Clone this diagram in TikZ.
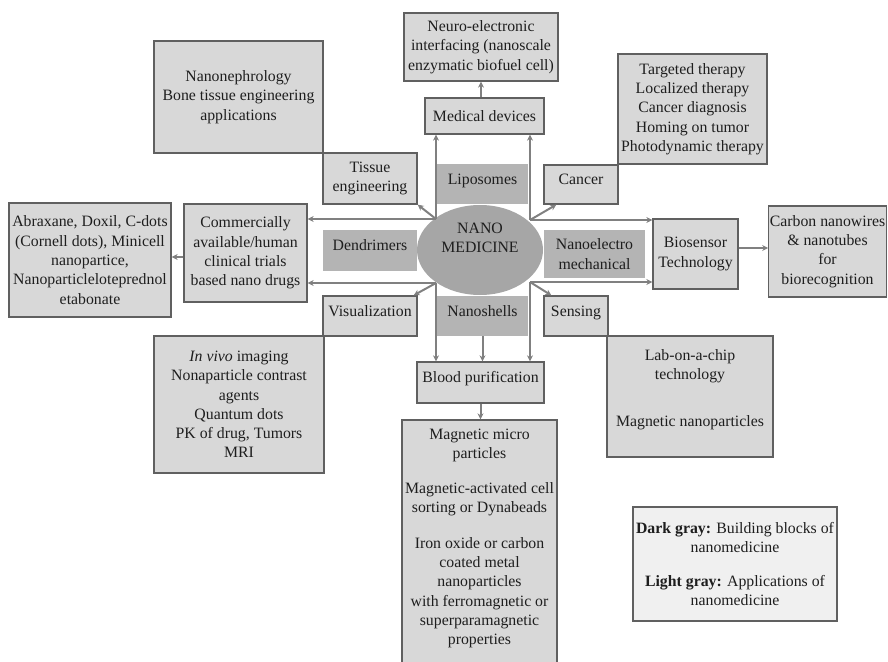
\documentclass[tikz,border=0pt]{standalone}
\usepackage{fontspec}
\setmainfont{Liberation Serif}
\usetikzlibrary{arrows.meta,shapes.geometric}
\definecolor{lightfill}{RGB}{216,216,216}
\definecolor{darkfill}{RGB}{180,180,180}
\definecolor{ellfill}{RGB}{166,166,166}
\definecolor{legfill}{RGB}{240,240,240}
\definecolor{bordercol}{RGB}{96,96,96}
\definecolor{arrcol}{RGB}{128,128,128}
\definecolor{txtcol}{RGB}{30,30,30}
\tikzset{
  every node/.style={font=\fontsize{15.8}{19.3}\selectfont, text=txtcol},
  lbox/.style={draw=bordercol, line width=1.3pt, fill=lightfill, inner sep=1pt, align=center},
  dbox/.style={fill=darkfill, inner sep=1pt, align=center},
  legbox/.style={draw=bordercol, line width=1.5pt, fill=legfill, inner sep=1pt, align=center},
  sl/.style={text height=5pt, text depth=5pt},
  tnode/.style={inner sep=0pt, align=center, anchor=north},
  arr/.style={draw=arrcol, line width=2pt, -{Stealth[length=6pt,width=6pt]}},
}
\begin{document}
\begin{tikzpicture}[x=1pt,y=-1pt]
\clip (0,0) rectangle (888,661);
\useasboundingbox (0,0) rectangle (888,661);

% light boxes
\node[lbox, minimum width=154pt, minimum height=68pt] (neuro) at (481,47) {Neuro-electronic\\interfacing (nanoscale\\enzymatic biofuel cell)};
\node[lbox, minimum width=119pt, minimum height=36pt] (med) at (484.5,116) {Medical devices};
\node[lbox, minimum width=169pt, minimum height=112pt] (nephro) at (238.5,97) {Nanonephrology\\Bone tissue engineering\\applications};
\node[lbox, minimum width=94pt, minimum height=51pt] (tissue) at (370,178.5) {Tissue\\engineering};
\node[lbox, minimum width=149pt, minimum height=110pt] (target) at (692.5,109) {Targeted therapy\\Localized therapy\\Cancer diagnosis\\Homing on tumor\\Photodynamic therapy};
\node[lbox, sl, minimum width=74pt, minimum height=39pt] (cancer) at (581,184.5) {Cancer};
\node[lbox, minimum width=123pt, minimum height=98pt] (commercial) at (245.5,253) {Commercially\\available/human\\clinical trials\\based nano drugs};
\node[lbox, minimum width=162pt, minimum height=114pt] (abrax) at (90,260) {Abraxane, Doxil, C-dots\\(Cornell dots), Minicell\\nanopartice,\\Nanoparticleloteprednol\\etabonate};
\node[lbox, minimum width=85pt, minimum height=70pt] (biosensor) at (695.5,254) {Biosensor\\Technology};
\node[lbox, minimum width=117pt, minimum height=91pt] (carbon) at (827.5,251.5) {Carbon nanowires\\\& nanotubes\\for\\biorecognition};
\node[lbox, sl, minimum width=94pt, minimum height=40pt] (visual) at (370,316) {Visualization};
\node[lbox, sl, minimum width=64pt, minimum height=40pt] (sensing) at (576,316) {Sensing};
\node[lbox, minimum width=170pt, minimum height=137pt] (invivo) at (239,404.5) {\textit{In vivo} imaging\\Nonaparticle contrast\\agents\\Quantum dots\\PK of drug, Tumors\\MRI};
\node[lbox, sl, minimum width=127pt, minimum height=41pt] (blood) at (480.5,382.5) {Blood purification};
\node[lbox, minimum width=155pt, minimum height=250pt] (magnetic) at (479.5,545) {};
\node[tnode] (magtext) at ([yshift=-9pt]magnetic.north) {Magnetic micro\\particles\\[16pt]Magnetic-activated cell\\sorting or Dynabeads\\[16pt]Iron oxide or carbon\\coated metal\\nanoparticles\\with ferromagnetic or\\superparamagnetic\\properties};
\node[lbox, minimum width=166pt, minimum height=121pt] (labchip) at (690,396.5) {};
\node[tnode] (labtext) at ([yshift=-13.5pt]labchip.north) {Lab-on-a-chip\\technology\\[28pt]Magnetic nanoparticles};

% dark boxes (building blocks)
\node[dbox, sl, minimum width=91pt, minimum height=40pt] (lipo) at (482.5,184) {Liposomes};
\node[dbox, sl, minimum width=94pt, minimum height=41pt] (dendr) at (370,250.5) {Dendrimers};
\node[dbox, minimum width=101pt, minimum height=48pt] (nanoelec) at (594.5,254) {Nanoelectro\\mechanical};
\node[dbox, sl, minimum width=91pt, minimum height=40pt] (nanoshells) at (482.5,316) {Nanoshells};

% centre
\node[ellipse, fill=ellfill, minimum width=126pt, minimum height=90pt, inner sep=0pt] (el) at (480,250) {};
\node[inner sep=0pt, align=center] (eltext) at ([yshift=12pt]el.center) {NANO\\MEDICINE};

% legend
\node[legbox, minimum width=204pt, minimum height=114pt] (legend) at (735,564) {\textbf{Dark gray:} Building blocks of\\nanomedicine\\[15pt]\textbf{Light gray:} Applications of\\nanomedicine};

% hub points on the ellipse
\coordinate (hubUL) at (436,219);
\coordinate (hubUR) at (530,220);
\coordinate (hubLL) at (436,283);
\coordinate (hubLR) at (530,282);

% connectors
\draw[arr] (hubUL) -- (hubUL |- med.south);
\draw[arr] (hubUR) -- (hubUR |- med.south);
\draw[arr] (neuro.south |- med.north) -- (neuro.south);
\draw[arr] (hubUL) -- (tissue.south east);
\draw[arr] (hubUR) -- ([xshift=13pt]cancer.south west);
\draw[arr] (hubUL) -- (hubUL -| commercial.east);
\draw[arr] (hubLL) -- (hubLL -| commercial.east);
\draw[arr] (hubUR) -- (hubUR -| biosensor.west);
\draw[arr] (hubLR) -- (hubLR -| biosensor.west);
\draw[arr] ([yshift=6pt]biosensor.east) -- ([yshift=6pt]biosensor.east -| carbon.west);
\draw[arr] ([yshift=-4pt]commercial.west) -- ([yshift=-4pt]commercial.west -| abrax.east);
\draw[arr] (hubLL) -- ([xshift=-4pt]visual.north east);
\draw[arr] (hubLR) -- ([xshift=8pt]sensing.north west);
\draw[arr] (hubLL) -- (hubLL |- blood.north);
\draw[arr] (nanoshells.south) -- (nanoshells.south |- blood.north);
\draw[arr] (hubLR) -- (hubLR |- blood.north);
\draw[arr] (blood.south) -- (blood.south |- magnetic.north);
\end{tikzpicture}
\end{document}
